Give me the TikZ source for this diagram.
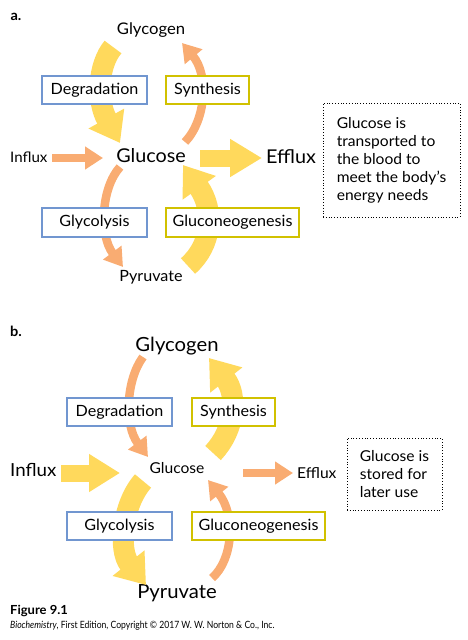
\documentclass[tikz,border=0pt]{standalone}
\usepackage{fontspec}
\setmainfont[FakeStretch=1.04]{Lato}
\newfontfamily\creditfont[FakeStretch=0.86]{Lato}
\usetikzlibrary{arrows.meta}
\definecolor{flowyellow}{HTML}{FFD95C}
\definecolor{floworange}{HTML}{F9AC72}
\definecolor{boxblue}{HTML}{7196D0}
\definecolor{boxolive}{HTML}{D1C100}
\begin{document}
\begin{tikzpicture}[x=1pt,y=-1pt,
    fatflow/.style={draw=flowyellow, line width=21pt, -{Triangle[length=28pt,width=39pt]}},
    thinflow/.style={draw=floworange, line width=8.5pt, -{Triangle[length=18pt,width=22pt]}},
    stepbox/.style={line width=2.2pt, fill=white, minimum height=28.5pt, font=\fontsize{15.5}{18}\selectfont},
    bluebox/.style={stepbox, draw=boxblue},
    olivebox/.style={stepbox, draw=boxolive},
    notebox/.style={draw, dotted, line width=0.8pt, align=left, font=\fontsize{15}{18}\selectfont}]
      \useasboundingbox (0,0) rectangle (468,640);
%
% panel a: transported to the blood
      \node[font=\bfseries\fontsize{14}{16}\selectfont] (la) at (16,17) {a.};
      \node[font=\fontsize{16}{18}\selectfont] (glycogenA) at (151,30) {Glycogen};
      \node[font=\fontsize{19}{22}\selectfont] (glucoseA) at (151,156) {Glucose};
      \node[font=\fontsize{15.5}{18}\selectfont] (pyruvateA) at (151,277) {Pyruvate};
      \node[anchor=west, inner sep=0pt, font=\fontsize{14.5}{18}\selectfont] (influxA) at (10,157) {Influx};
      \node[anchor=west, inner sep=0pt, font=\fontsize{19}{22}\selectfont] (effluxA) at (266,157) {Efflux};
      %
      \coordinate (A1) at (113,47);%%
      \coordinate (A2) at (120,143);%%
      \coordinate (A3) at (185,142);%%
      \coordinate (A4) at (182,43);%%
      \coordinate (A5) at (120,167);%%
      \coordinate (A6) at (123,267);%%
      \coordinate (A7) at (188,266);%%
      \coordinate (A8) at (183,165);%%
      \coordinate (A9) at (52,158);%%
      \coordinate (A10) at (103,158);%%
      \coordinate (A11) at (200,158);%%
      \coordinate (A12) at (262,158);%%
    %
      \draw[fatflow] (A1) .. controls (98,65) and (96,100) .. (A2);
      \draw[thinflow] (A3) .. controls (206,120) and (209,75) .. (A4);
      \draw[thinflow] (A5) .. controls (101,188) and (99,235) .. (A6);
      \draw[fatflow] (A7) .. controls (212,245) and (215,210) .. (A8);
      \draw[thinflow] (A9) -- (A10);
      \draw[fatflow, line width=17pt, -{Triangle[length=32pt,width=36pt]}] (A11) -- (A12);
%
      \node[bluebox, minimum width=105pt] (degA) at (94.5,90) {Degradation};
      \node[olivebox, minimum width=83pt] (synA) at (207.5,90) {Synthesis};
      \node[bluebox, minimum width=105pt] (glyA) at (94.5,222.5) {Glycolysis};
      \node[olivebox, minimum width=133pt] (gngA) at (232.5,222.5) {Gluconeogenesis};
      \node[notebox, minimum width=137pt, minimum height=114pt] (noteA) at (391.5,160)
      {Glucose is\\transported to\\the blood to\\meet the body’s\\energy needs};
%
% panel b: stored for later use
      \node[font=\bfseries\fontsize{14}{16}\selectfont] (lb) at (16,331) {b.};
      \node[font=\fontsize{19.5}{22}\selectfont] (glycogenB) at (177,346) {Glycogen};
      \node[font=\fontsize{15}{18}\selectfont] (glucoseB) at (177,468) {Glucose};
      \node[font=\fontsize{19.5}{22}\selectfont] (pyruvateB) at (177,593) {Pyruvate};
      \node[anchor=west, inner sep=0pt, font=\fontsize{18}{22}\selectfont] (influxB) at (10,470) {Influx};
      \node[anchor=west, inner sep=0pt, font=\fontsize{15}{18}\selectfont] (effluxB) at (297,473) {Efflux};
      %
      \coordinate (B1) at (143,357);%%
      \coordinate (B2) at (148,457);%%
      \coordinate (B3) at (213,453);%%
      \coordinate (B4) at (209,358);%%
      \coordinate (B5) at (143,481);%%
      \coordinate (B6) at (146,585);%%
      \coordinate (B7) at (212,578);%%
      \coordinate (B8) at (208,480);%%
      \coordinate (B9) at (61,473);%%
      \coordinate (B10) at (120,473);%%
      \coordinate (B11) at (243,473);%%
      \coordinate (B12) at (293,473);%%
    %
      \draw[thinflow] (B1) .. controls (126,380) and (124,425) .. (B2);
      \draw[fatflow] (B3) .. controls (235,430) and (238,395) .. (B4);
      \draw[fatflow] (B5) .. controls (122,505) and (118,550) .. (B6);
      \draw[thinflow] (B7) .. controls (233,560) and (236,515) .. (B8);
      \draw[fatflow, line width=17pt, -{Triangle[length=31pt,width=36pt]}] (B9) -- (B10);
      \draw[thinflow] (B11) -- (B12);
%
      \node[bluebox, minimum width=105pt] (degB) at (119.5,412) {Degradation};
      \node[olivebox, minimum width=83pt] (synB) at (233.5,412) {Synthesis};
      \node[bluebox, minimum width=105pt] (glyB) at (119.5,526) {Glycolysis};
      \node[olivebox, minimum width=133pt] (gngB) at (258.5,526) {Gluconeogenesis};
      \node[notebox, minimum width=95pt, minimum height=72pt] (noteB) at (394.5,474)
      {Glucose is\\stored for\\later use};
%
% credit line
      \node[anchor=west, inner sep=0pt, font=\bfseries\fontsize{12.5}{14}\selectfont] (fig) at (10,611) {Figure 9.1};
      \node[anchor=west, inner sep=0pt, font=\creditfont\fontsize{10}{12}\selectfont] (credit) at (10,626)
      {\textit{Biochemistry}, First Edition, Copyright © 2017 W. W. Norton \& Co., Inc.};
   \end{tikzpicture}
\end{document}
